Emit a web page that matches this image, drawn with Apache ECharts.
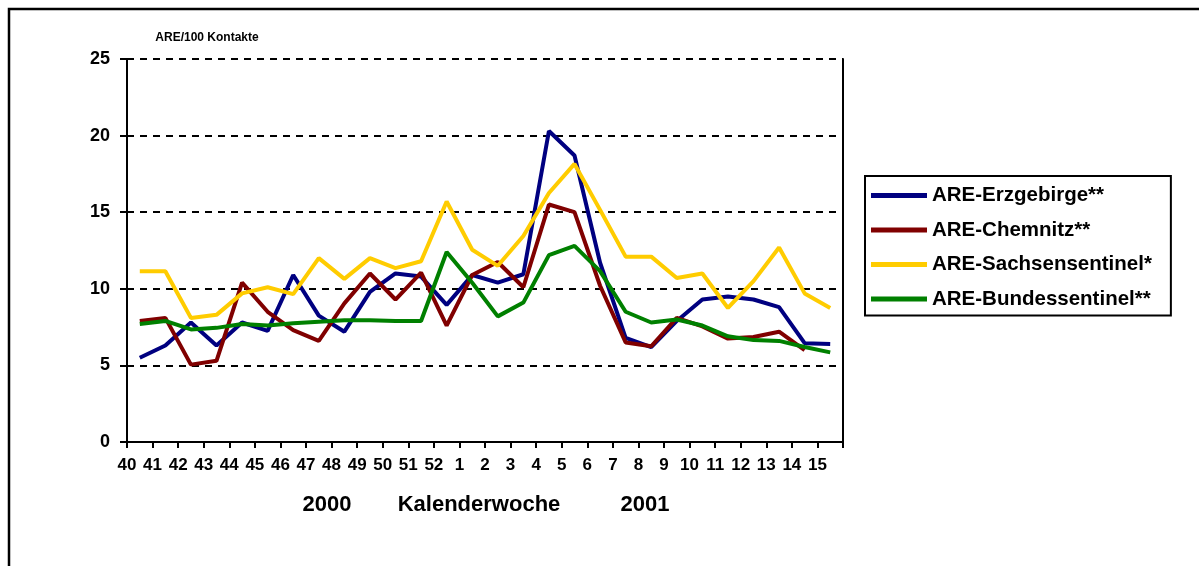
<!DOCTYPE html>
<html>
<head>
<meta charset="utf-8">
<script src="https://cdn.jsdelivr.net/npm/echarts@6/dist/echarts.min.js"></script>
<style>
  html, body { margin: 0; padding: 0; background: #fff; }
  #chart { width: 1199px; height: 566px; }
</style>
</head>
<body>
<div id="chart"></div>
<script>
// Kalenderwochen 40/2000 .. 15/2001
var weeks = ['40', '41', '42', '43', '44', '45', '46', '47', '48', '49', '50', '51', '52',
  '1', '2', '3', '4', '5', '6', '7', '8', '9', '10', '11', '12', '13', '14', '15']

var erzgebirge = [5.5, 6.3, 7.8, 6.3, 7.8, 7.25, 10.9, 8.25, 7.2, 9.8, 11.0, 10.8, 8.95, 10.9,
  10.4, 10.95, 20.3, 18.7, 11.7, 6.8, 6.2, 7.9, 9.3, 9.5, 9.3, 8.8, 6.45, 6.4]
var chemnitz = [7.9, 8.1, 5.05, 5.3, 10.4, 8.5, 7.3, 6.6, 9.05, 11.0, 9.3, 11.05, 7.6, 10.9,
  11.75, 10.1, 15.5, 15.0, 10.2, 6.5, 6.25, 8.1, 7.55, 6.75, 6.85, 7.2, 6.0, null]
var sachsen = [11.15, 11.15, 8.1, 8.3, 9.7, 10.1, 9.65, 12.0, 10.65, 12.0, 11.35, 11.8, 15.7, 12.55,
  11.5, 13.45, 16.25, 18.15, 15.15, 12.1, 12.1, 10.7, 11.0, 8.75, 10.5, 12.7, 9.7, 8.75]
var bundes = [7.7, 7.9, 7.35, 7.45, 7.7, 7.6, 7.75, 7.85, 7.95, 7.95, 7.9, 7.9, 12.4, 10.4,
  8.2, 9.1, 12.2, 12.8, 11.15, 8.5, 7.8, 8.0, 7.6, 6.9, 6.65, 6.6, 6.2, 5.85]

var seriesNames = ['ARE-Erzgebirge**', 'ARE-Chemnitz**', 'ARE-Sachsensentinel*', 'ARE-Bundessentinel**']
var seriesData = [erzgebirge, chemnitz, sachsen, bundes]
var colors = ['#000080', '#800000', '#FFCC00', '#008000']

var FONT = 'Liberation Sans, Arial, sans-serif'

var chart = echarts.init(document.getElementById('chart'))

chart.setOption({
    animation: false,
    backgroundColor: '#fff',
    color: colors,
    grid: {
        left: 127,
        right: 356,
        top: 59,
        bottom: 124
    },
    legend: {
        orient: 'vertical',
        left: 865,
        top: 176,
        icon: 'rect',
        itemWidth: 56,
        itemHeight: 5,
        itemGap: 13.5,
        padding: [9, 19, 6, 6],
        borderColor: '#000',
        borderWidth: 2,
        textStyle: {
            fontFamily: FONT,
            fontWeight: 'bold',
            fontSize: 20.5,
            color: '#000'
        },
        data: seriesNames
    },
    // Rahmen und Achsentitel
    graphic: [
        {
            type: 'rect',
            shape: { x: 9, y: 9, width: 1250, height: 620 },
            style: { fill: 'none', stroke: '#000', lineWidth: 2.5 }
        },
        {
            type: 'text',
            x: 207, y: 38,
            style: { text: 'ARE/100 Kontakte', fill: '#000', font: 'bold 12px ' + FONT, align: 'center', verticalAlign: 'middle' }
        },
        {
            type: 'text',
            x: 327, y: 505,
            style: { text: '2000', fill: '#000', font: 'bold 22px ' + FONT, align: 'center', verticalAlign: 'middle' }
        },
        {
            type: 'text',
            x: 479, y: 505,
            style: { text: 'Kalenderwoche', fill: '#000', font: 'bold 22px ' + FONT, align: 'center', verticalAlign: 'middle' }
        },
        {
            type: 'text',
            x: 645, y: 505,
            style: { text: '2001', fill: '#000', font: 'bold 22px ' + FONT, align: 'center', verticalAlign: 'middle' }
        }
    ],
    xAxis: [
        {
            type: 'category',
            position: 'bottom',
            data: weeks,
            boundaryGap: true,
            axisLine: { lineStyle: { color: '#000', width: 2 } },
            axisTick: { show: true, interval: 0, length: 6, lineStyle: { color: '#000', width: 2 } },
            axisLabel: { show: false },
            splitLine: { show: false }
        },
        {
            // labels sit on the ticks, not in the middle of the category (like Excel)
            type: 'category',
            position: 'bottom',
            data: weeks.concat(['']),
            boundaryGap: false,
            axisLine: { show: false },
            axisTick: { show: false },
            axisLabel: {
                interval: 0,
                margin: 15,
                color: '#000',
                fontFamily: FONT,
                fontWeight: 'bold',
                fontSize: 17
            },
            splitLine: { show: false }
        }
    ],
    yAxis: [
        {
            type: 'value',
            min: 0,
            max: 25,
            interval: 5,
            axisLine: { show: true, lineStyle: { color: '#000', width: 2 } },
            axisTick: { show: true, length: 7, lineStyle: { color: '#000', width: 2 } },
            axisLabel: {
                margin: 17,
                color: '#000',
                fontFamily: FONT,
                fontWeight: 'bold',
                fontSize: 18
            },
            splitLine: { lineStyle: { color: '#000', width: 2, type: [7, 6] } }
        },
        {
            type: 'value',
            position: 'right',
            min: 0,
            max: 25,
            interval: 5,
            axisLine: { show: true, lineStyle: { color: '#000', width: 2 } },
            axisTick: { show: false },
            axisLabel: { show: false },
            splitLine: { show: false }
        }
    ],
    series: seriesNames.map(function (name, i) {
        return {
            name: name,
            type: 'line',
            xAxisIndex: 0,
            yAxisIndex: 0,
            data: seriesData[i],
            symbol: 'none',
            lineStyle: { width: 4, color: colors[i] },
            itemStyle: { color: colors[i] }
        }
    })
})
</script>
</body>
</html>
